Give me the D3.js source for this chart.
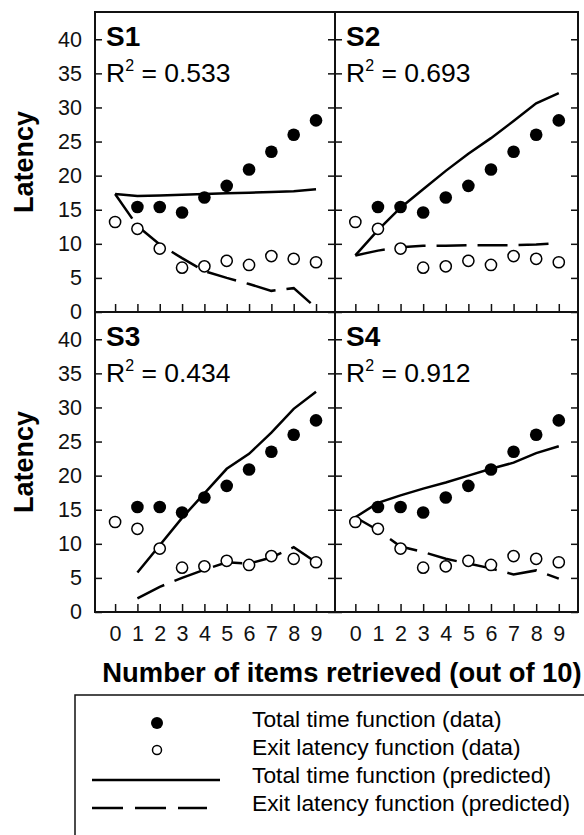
<!DOCTYPE html>
<html>
<head>
<meta charset="utf-8">
<script src="https://cdn.jsdelivr.net/npm/d3@7"></script>
<style>
  body { margin: 0; background: #fff; }
  svg { display: block; font-family: "Liberation Sans", Arial, sans-serif; }
</style>
</head>
<body>
<div id="chart"></div>
<script>
// Data
const items = [0, 1, 2, 3, 4, 5, 6, 7, 8, 9];
const yTicks = [0, 5, 10, 15, 20, 25, 30, 35, 40];

// observed values (identical in every panel)
const totalData = [null, 15.4, 15.4, 14.6, 16.8, 18.5, 20.9, 23.5, 26.0, 28.1];
const exitData = [13.2, 12.2, 9.3, 6.5, 6.7, 7.5, 6.9, 8.2, 7.8, 7.3];

const panelNames = ["S1", "S2", "S3", "S4"];
const r2Values = ["0.533", "0.693", "0.434", "0.912"];

const totalPred = [
  [17.3, 17.0, 17.1, 17.2, 17.3, 17.4, 17.5, 17.6, 17.7, 18.0],
  [8.3, 12.0, 15.3, 18.0, 20.7, 23.2, 25.5, 28.0, 30.6, 32.1],
  [null, 5.8, 9.8, 13.8, 17.4, 21.0, 23.2, 26.3, 29.8, 32.3],
  [13.9, 16.0, 17.1, 18.1, 19.0, 20.0, 21.0, 21.9, 23.3, 24.3]
];
const exitPred = [
  [17.3, 12.6, 9.9, 7.9, 6.0, 5.0, 4.1, 3.1, 3.5, 0.6],
  [8.3, 9.0, 9.5, 9.7, 9.7, 9.8, 9.8, 9.8, 9.9, 10.1],
  [null, 2.0, 3.7, 5.0, 6.2, 7.3, 7.1, 8.0, 9.5, 7.3],
  [13.9, 12.0, 9.6, 8.8, 7.8, 7.1, 6.4, 5.5, 6.1, 4.9]
];

const legendLabels = [
  "Total time function (data)",
  "Exit latency function (data)",
  "Total time function (predicted)",
  "Exit latency function (predicted)"
];

const W = 584, H = 835;
const svg = d3.select("#chart").append("svg")
  .attr("width", W)
  .attr("height", H);

// panel frames: columns and rows
const cols = [[95, 335], [335, 578]];
const rows = [[12, 312], [312, 612]];
const dash = "30,11";

panelNames.forEach((name, p) => {
  const c = p % 2, r = Math.floor(p / 2);
  const [x0, x1] = cols[c];
  const [y0, y1] = rows[r];

  const x = d3.scaleLinear().domain([-0.9, 9.85]).range([x0, x1]);
  const y = d3.scaleLinear().domain([0, 44]).range([y1, y0]);

  const g = svg.append("g");

  // y axis, left side (inward ticks)
  const yl = g.append("g")
    .attr("transform", `translate(${x0},0)`)
    .call(d3.axisLeft(y).tickValues(yTicks).tickSize(-7).tickPadding(13)
      .tickFormat(c === 0 ? d3.format("d") : () => ""));
  // y axis, right side
  const yr = g.append("g")
    .attr("transform", `translate(${x1},0)`)
    .call(d3.axisRight(y).tickValues(yTicks).tickSize(-7).tickFormat(() => ""));
  // x axis, bottom
  const xb = g.append("g")
    .attr("transform", `translate(0,${y1})`)
    .call(d3.axisBottom(x).tickValues(items).tickSize(-8).tickPadding(14)
      .tickFormat(r === 1 ? d3.format("d") : () => ""));

  [yl, yr, xb].forEach(a => {
    a.select(".domain").remove();
    a.selectAll(".tick line").attr("stroke", "#111").attr("stroke-width", 1.5);
    a.selectAll(".tick text")
      .attr("fill", "#111")
      .style("font-size", "21.5px")
      .style("font-family", "'Liberation Sans', Arial, sans-serif");
  });

  const line = d3.line()
    .defined(d => d[1] != null)
    .x(d => x(d[0]))
    .y(d => y(d[1]));

  g.append("path")
    .datum(items.map((v, i) => [v, totalPred[p][i]]))
    .attr("d", line)
    .attr("fill", "none")
    .attr("stroke", "#000")
    .attr("stroke-width", 2.5);

  g.append("path")
    .datum(items.map((v, i) => [v, exitPred[p][i]]))
    .attr("d", line)
    .attr("fill", "none")
    .attr("stroke", "#000")
    .attr("stroke-width", 2.5)
    .attr("stroke-dasharray", dash);

  g.selectAll(".dot-total")
    .data(items.map((v, i) => [v, totalData[i]]).filter(d => d[1] != null))
    .enter().append("circle")
    .attr("cx", d => x(d[0]))
    .attr("cy", d => y(d[1]))
    .attr("r", 6.3)
    .attr("fill", "#000");

  g.selectAll(".dot-exit")
    .data(items.map((v, i) => [v, exitData[i]]))
    .enter().append("circle")
    .attr("cx", d => x(d[0]))
    .attr("cy", d => y(d[1]))
    .attr("r", 5.6)
    .attr("fill", "#fff")
    .attr("stroke", "#000")
    .attr("stroke-width", 1.5);

  // panel frame
  g.append("rect")
    .attr("x", x0).attr("y", y0)
    .attr("width", x1 - x0).attr("height", y1 - y0)
    .attr("fill", "none")
    .attr("stroke", "#111")
    .attr("stroke-width", 2);

  // panel labels
  g.append("text")
    .attr("x", x0 + 11).attr("y", y0 + 34)
    .style("font-size", "28px")
    .style("font-weight", "bold")
    .text(name);

  const rt = g.append("text")
    .attr("x", x0 + 11).attr("y", y0 + 70)
    .style("font-size", "26.5px");
  rt.append("tspan").text("R");
  rt.append("tspan").attr("dy", -11).style("font-size", "16px").text("2");
  rt.append("tspan").attr("dy", 11).text(" = " + r2Values[p]);
});

// y titles
[162, 462].forEach(cy => {
  svg.append("text")
    .attr("transform", `translate(33,${cy}) rotate(-90)`)
    .attr("text-anchor", "middle")
    .style("font-size", "27px")
    .style("font-weight", "bold")
    .text("Latency");
});

// x title
svg.append("text")
  .attr("x", 342).attr("y", 682)
  .attr("text-anchor", "middle")
  .style("font-size", "27.4px")
  .style("font-weight", "bold")
  .text("Number of items retrieved (out of 10)");

// legend
const lg = svg.append("g");
lg.append("rect")
  .attr("x", 75).attr("y", 695)
  .attr("width", 530).attr("height", 200)
  .attr("fill", "none")
  .attr("stroke", "#111")
  .attr("stroke-width", 1.5);

const rowY = d3.scalePoint().domain(legendLabels).range([727, 811]);

lg.append("circle")
  .attr("cx", 157).attr("cy", rowY(legendLabels[0]) - 4)
  .attr("r", 6).attr("fill", "#000");
lg.append("circle")
  .attr("cx", 157).attr("cy", rowY(legendLabels[1]) - 5)
  .attr("r", 4.5).attr("fill", "#fff")
  .attr("stroke", "#000").attr("stroke-width", 1.5);
lg.append("line")
  .attr("x1", 92).attr("x2", 220)
  .attr("y1", rowY(legendLabels[2]) - 3).attr("y2", rowY(legendLabels[2]) - 3)
  .attr("stroke", "#000").attr("stroke-width", 2.5);
lg.append("line")
  .attr("x1", 92).attr("x2", 207)
  .attr("y1", rowY(legendLabels[3]) - 3).attr("y2", rowY(legendLabels[3]) - 3)
  .attr("stroke", "#000").attr("stroke-width", 2.5)
  .attr("stroke-dasharray", "31,12");

lg.selectAll(".leg-text")
  .data(legendLabels)
  .enter().append("text")
  .attr("x", 252)
  .attr("y", d => rowY(d))
  .style("font-size", "22.8px")
  .text(d => d);
</script>
</body>
</html>
